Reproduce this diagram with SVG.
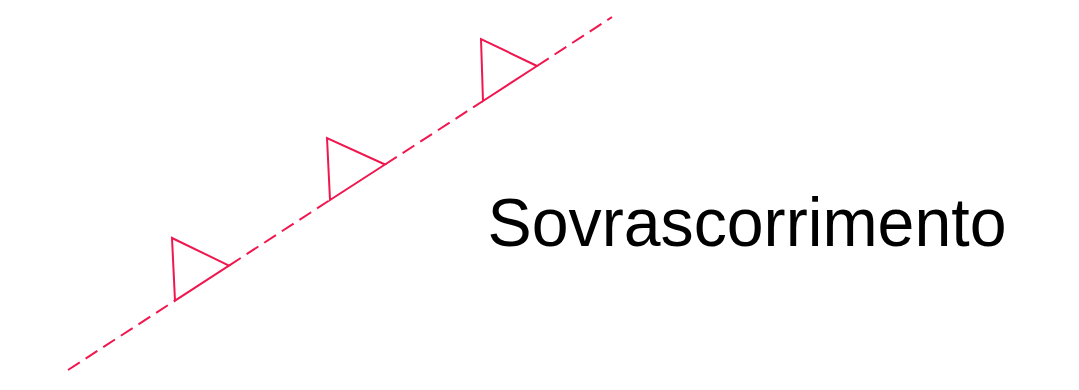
<svg xmlns="http://www.w3.org/2000/svg" width="1079" height="390" viewBox="0 0 1079 390">
<style>
.ln{stroke:#f0174f;stroke-width:2;fill:none;stroke-linecap:butt}
.d{stroke-dasharray:14 7}
.t{font-family:"Liberation Sans",Arial,sans-serif;font-size:68px;fill:#000}
</style>
<rect width="1079" height="390" fill="#fff"/>
<g id="connectors">
<line class="ln d" x1="68" y1="370" x2="175" y2="300.6"/>
<line class="ln d" x1="229" y1="265.6" x2="330" y2="200"/>
<line class="ln d" x1="385" y1="164.5" x2="483" y2="101"/>
<line class="ln d" x1="537" y1="66" x2="612" y2="17"/>
</g>
<g id="tooth1"><polygon class="ln" points="172,238 175,300.6 229,265.6"/></g>
<g id="tooth2"><polygon class="ln" points="327,138 330,200 385,164.5"/></g>
<g id="tooth3"><polygon class="ln" points="481,39 483,101 537,66"/></g>
<g id="label"><text class="t" x="487.5" y="245.5" textLength="519" lengthAdjust="spacingAndGlyphs">Sovrascorrimento</text></g>
</svg>
